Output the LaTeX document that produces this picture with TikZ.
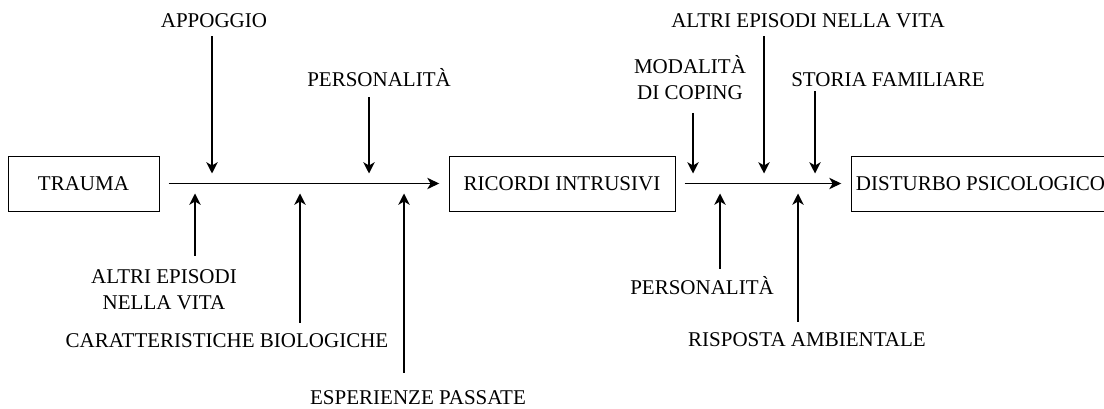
\documentclass[tikz,border=0pt]{standalone}
\usepackage{fontspec}
\setmainfont{Liberation Serif}
\usetikzlibrary{arrows.meta}
\tikzstyle{stage}=[draw, minimum height=41.25pt, inner sep=0pt, line width=0.6pt]
\tikzstyle{factor}=[inner sep=0pt, text height=10.4pt, text depth=0pt]
\tikzstyle{factor block}=[inner sep=0pt, align=center]
\tikzstyle{flow}=[line width=1pt, -{Stealth[length=9pt, width=8.5pt, inset=2.5pt]}, shorten >=7pt, shorten <=7pt]
\tikzstyle{push}=[line width=1pt, -{Stealth[length=8.5pt, width=8.5pt, inset=2.5pt]}, shorten >=7.5pt]

\begin{document}
\begin{tikzpicture}[x=0.75pt, y=-0.75pt, font=\fontsize{15.75pt}{19.5pt}\selectfont]
      \useasboundingbox (0, 0) rectangle (1104, 409);

      \node[stage, minimum width=113.25pt] (trauma) at (83.5, 183.5) {TRAUMA};
      \node[stage, minimum width=169.5pt] (ricordi) at (562, 183.5) {RICORDI INTRUSIVI};
      \node[stage, minimum width=194.25pt] (disturbo) at (980.5, 183.5) {DISTURBO PSICOLOGICO};

      \draw[flow] (trauma) -- (ricordi);
      \draw[flow] (ricordi) -- (disturbo);

      \coordinate (appoggio_at) at (212, 183.5);
      \coordinate (pers_a_at) at (369, 183.5);
      \coordinate (altri_a_at) at (195, 183.5);
      \coordinate (bio_at) at (300, 183.5);
      \coordinate (esp_at) at (404, 183.5);
      \coordinate (coping_at) at (693, 183.5);
      \coordinate (altri_b_at) at (764, 183.5);
      \coordinate (storia_at) at (815, 183.5);
      \coordinate (pers_b_at) at (720, 183.5);
      \coordinate (risposta_at) at (798, 183.5);

      \node[factor, anchor=base] (appoggio) at (214, 28) {APPOGGIO};
      \node[factor, anchor=base] (pers_a) at (379, 87) {PERSONALITÀ};
      \node[factor block, anchor=north] (altri_a) at (164, 269) {ALTRI EPISODI\\NELLA VITA};
      \node[factor, anchor=base] (bio) at (227, 348) {CARATTERISTICHE BIOLOGICHE};
      \node[factor, anchor=base] (esp) at (418, 405) {ESPERIENZE PASSATE};

      \node[factor block, anchor=south] (coping) at (690, 100) {MODALITÀ\\DI COPING};
      \node[factor, anchor=base] (altri_b) at (808, 28) {ALTRI EPISODI NELLA VITA};
      \node[factor, anchor=base] (storia) at (888, 87) {STORIA FAMILIARE};
      \node[factor, anchor=base] (pers_b) at (702, 295) {PERSONALITÀ};
      \node[factor, anchor=base] (risposta) at (807, 347) {RISPOSTA AMBIENTALE};

      \draw[push, shorten <=6pt] (appoggio_at |- appoggio.south) -- (appoggio_at);
      \draw[push, shorten <=7.5pt] (pers_a_at |- pers_a.south) -- (pers_a_at);
      \draw[push, shorten <=9.75pt] (altri_a_at |- altri_a.north) -- (altri_a_at);
      \draw[push, shorten <=8.25pt] (bio_at |- bio.north) -- (bio_at);
      \draw[push, shorten <=13.5pt] (esp_at |- esp.north) -- (esp_at);

      \draw[push, shorten <=9.75pt] (coping_at |- coping.south) -- (coping_at);
      \draw[push, shorten <=6pt] (altri_b_at |- altri_b.south) -- (altri_b_at);
      \draw[push, shorten <=3pt] (storia_at |- storia.south) -- (storia_at);
      \draw[push, shorten <=9pt] (pers_b_at |- pers_b.north) -- (pers_b_at);
      \draw[push, shorten <=8.25pt] (risposta_at |- risposta.north) -- (risposta_at);
\end{tikzpicture}
\end{document}
